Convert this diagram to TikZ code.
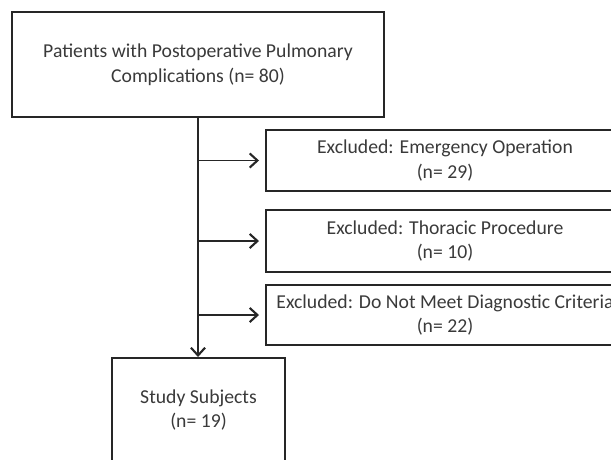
\documentclass[tikz,border=0pt]{standalone}
\usepackage{fontspec}
\setmainfont{Carlito}
\usetikzlibrary{arrows.meta,positioning}
\definecolor{lineDark}{HTML}{262626}
\definecolor{textMain}{HTML}{3A3A3A}

\begin{document}
\begin{tikzpicture}[
    font=\fontsize{14pt}{17.6pt}\selectfont,
    >={Straight Barb[length=5.5pt,width=10pt,line width=1.5pt]},
    stageNode/.style={
        rectangle,
        draw=lineDark, line width=1.4pt,
        fill=white,
        text=textMain,
        inner sep=0pt,
        align=center
    },
    exclNode/.style={
        stageNode,
        minimum width=8.95cm, minimum height=1.525cm
    },
    flow/.style={->, line width=1.4pt, draw=lineDark}
]

\useasboundingbox (0,0) rectangle (15.275,-11.475);

% Layout plan: one main column, exclusions branching off to the right.
\node[stageNode, minimum width=9.3cm, minimum height=2.625cm] (Patients) at (4.95, -1.6125)
  {Patients with Postoperative Pulmonary\\Complications (n= 80)};

\node[exclNode] (ExclEmergency) at (11.125, -4.0125)
  {Excluded: Emergency Operation\\(n= 29)};
\node[exclNode, minimum height=1.55cm] (ExclThoracic) at (11.125, -6.025)
  {Excluded: Thoracic Procedure\\(n= 10)};
\node[exclNode, minimum height=1.5cm] (ExclCriteria) at (11.125, -7.875)
  {Excluded: Do Not Meet Diagnostic Criteria\\(n= 22)};

\node[stageNode, minimum width=4.325cm, minimum height=2.6cm] (Study) at (4.9625, -10.25)
  {Study Subjects\\(n= 19)};

\draw[flow] (Patients.south) -- (Patients.south |- Study.north);
\draw[flow, shorten >=0.15cm] (Patients.south |- ExclEmergency.west) -- (ExclEmergency.west);
\draw[flow, shorten >=0.15cm] (Patients.south |- ExclThoracic.west) -- (ExclThoracic.west);
\draw[flow, shorten >=0.15cm] (Patients.south |- ExclCriteria.west) -- (ExclCriteria.west);

\end{tikzpicture}
\end{document}
